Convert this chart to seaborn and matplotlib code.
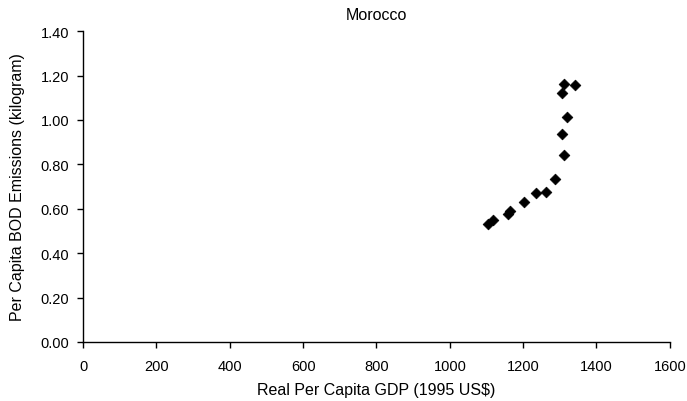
import matplotlib
matplotlib.use("Agg")
import matplotlib.pyplot as plt
import seaborn as sns
import pandas as pd

# Morocco: real per-capita GDP vs per-capita BOD emissions
gdp = [1104, 1118, 1159, 1165, 1202, 1234, 1262, 1288, 1311, 1307, 1320, 1307, 1311, 1341]
bod = [0.532, 0.547, 0.577, 0.592, 0.632, 0.670, 0.675, 0.736, 0.841, 0.935, 1.015, 1.120, 1.162, 1.158]

x_ticks = [0, 200, 400, 600, 800, 1000, 1200, 1400, 1600]
y_ticks = [0.0, 0.2, 0.4, 0.6, 0.8, 1.0, 1.2, 1.4]

df = pd.DataFrame({"gdp": gdp, "bod": bod})

sns.set_theme(style="white")
plt.rcParams["font.family"] = ["Liberation Sans", "DejaVu Sans"]

fig = plt.figure(figsize=(6.87, 4.02), dpi=100)
ax = fig.add_axes([0.121, 0.147, 0.854, 0.773])

sns.scatterplot(data=df, x="gdp", y="bod", ax=ax, marker="D", s=30,
                color="black", edgecolor="black", linewidth=0.5, legend=False)

ax.set_xlim(0, 1600)
ax.set_ylim(0, 1.4)
ax.set_xticks(x_ticks)
ax.set_xticklabels([str(v) for v in x_ticks])
ax.set_yticks(y_ticks)
ax.set_yticklabels([f"{v:.2f}" for v in y_ticks])

for side in ("top", "right"):
    ax.spines[side].set_visible(False)
for side in ("left", "bottom"):
    ax.spines[side].set_color("black")
    ax.spines[side].set_linewidth(1.0)

ax.tick_params(axis="both", direction="out", length=4, width=1, color="black",
               labelsize=10.5, labelcolor="black", bottom=True, left=True)
ax.tick_params(axis="x", pad=8)
ax.tick_params(axis="y", pad=6)

ax.set_xlabel("Real Per Capita GDP (1995 US$)", fontsize=11.5, color="black", labelpad=7)
ax.set_ylabel("Per Capita BOD Emissions (kilogram)", fontsize=11.5, color="black", labelpad=11)
ax.set_title("Morocco", fontsize=11.5, color="black", pad=9)

fig.savefig("out.png", dpi=100)
